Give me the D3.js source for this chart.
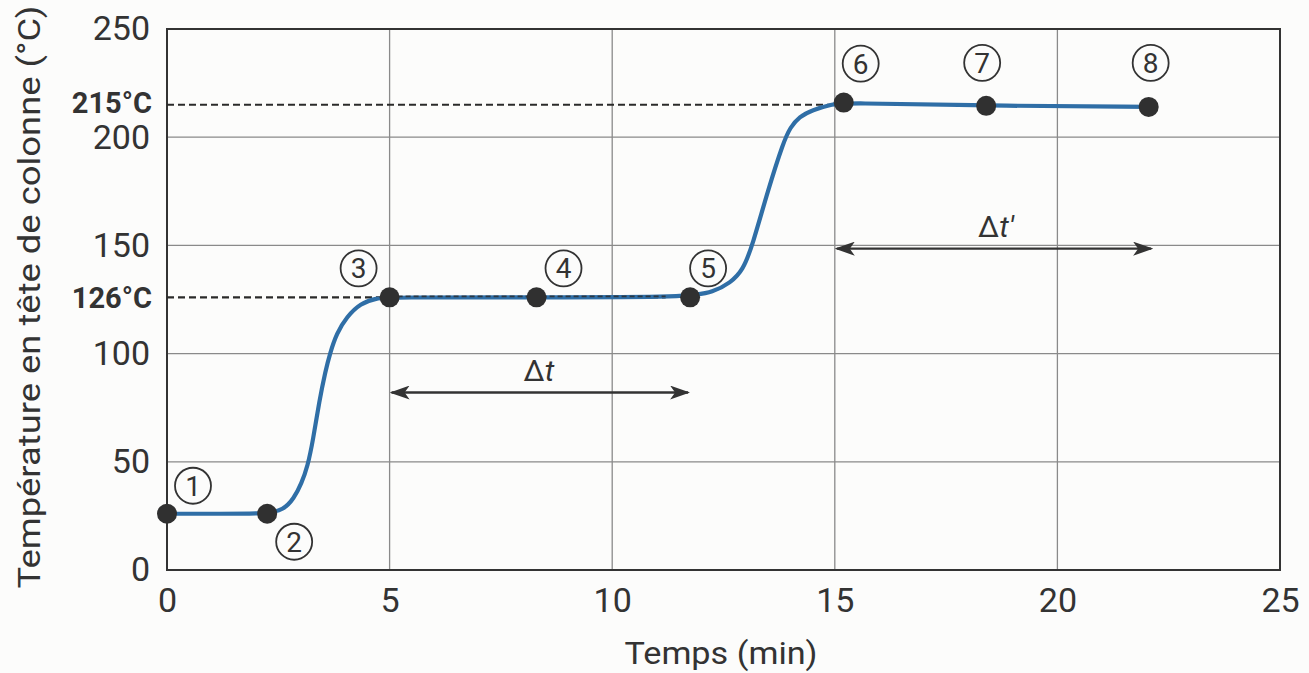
<!DOCTYPE html>
<html>
<head>
<meta charset="utf-8">
<script src="https://cdn.jsdelivr.net/npm/d3@7"></script>
<style>
  html, body { margin: 0; padding: 0; background: #fcfcfb; }
  svg { display: block; }
  .tick text { font-family: Roboto, sans-serif; fill: #333; }
</style>
</head>
<body>
<svg id="chart" width="1309" height="673"></svg>
<script>
// ---- data ----
const xTicks = [0, 5, 10, 15, 20, 25];
const yTicks = [0, 50, 100, 150, 200, 250];
const curveTime = [0, 1.2, 2.25, 2.61, 2.85, 3.02, 3.16, 3.28, 3.42, 3.56, 3.66, 3.81, 4.04, 4.34, 4.71, 5, 8.3, 11.75, 12.27, 12.65, 12.94, 13.15, 13.5, 13.85, 14.0, 14.2, 14.5, 14.9, 15.2, 18.4, 22.05];
const curveTemp = [26, 26, 26, 27.7, 33, 40, 48, 60, 78, 92, 100, 109.4, 117, 123.2, 125.6, 126, 126, 126, 128.5, 132.6, 138.6, 150, 175.6, 198, 204.5, 209.5, 212.6, 215, 216, 214.5, 214];
const pointTime = [0, 2.25, 5, 8.3, 11.75, 15.2, 18.4, 22.05];
const pointTemp = [26, 26, 126, 126, 126, 216, 214.5, 214];
const pointLabels = ["1", "2", "3", "4", "5", "6", "7", "8"];
const refTemps = [126, 215];
const refLabels = ["126°C", "215°C"];
const refEndTime = [11.2, 15.2];
const spanStart = [5, 15];
const spanEnd = [11.75, 22.15];
const spanTemp = [82, 148.5];
const spanLabels = ["Δt", "Δt′"];
const xTitle = "Temps (min)";
const yTitle = "Température en tête de colonne (°C)";

// ---- layout ----
const svg = d3.select("#chart");
const L = 167, R = 1280, T = 29, B = 570;
const x = d3.scaleLinear().domain([0, 25]).range([L, R]);
const y = d3.scaleLinear().domain([0, 250]).range([B, T]);
const ink = "#333";
const sans = "Roboto, 'Liberation Sans', sans-serif";

// grid
svg.append("g").selectAll("line").data(xTicks.slice(1, -1)).join("line")
  .attr("x1", d => x(d)).attr("x2", d => x(d)).attr("y1", T).attr("y2", B)
  .attr("stroke", "#8a8a8a").attr("stroke-width", 1.3);
svg.append("g").selectAll("line").data(yTicks.slice(1, -1)).join("line")
  .attr("y1", d => y(d)).attr("y2", d => y(d)).attr("x1", L).attr("x2", R)
  .attr("stroke", "#8a8a8a").attr("stroke-width", 1.3);

// frame
svg.append("rect").attr("x", L).attr("y", T).attr("width", R - L).attr("height", B - T)
  .attr("fill", "none").attr("stroke", ink).attr("stroke-width", 2);

// axes
const xAxis = svg.append("g").attr("transform", `translate(0,${B})`)
  .call(d3.axisBottom(x).tickValues(xTicks).tickSize(0).tickPadding(18).tickFormat(d3.format("d")));
xAxis.select(".domain").remove();
xAxis.selectAll("text").attr("font-size", 34).attr("dy", "0.71em");

const yAxis = svg.append("g").attr("transform", `translate(${L},0)`)
  .call(d3.axisLeft(y).tickValues(yTicks).tickSize(0).tickPadding(17).tickFormat(d3.format("d")));
yAxis.select(".domain").remove();
yAxis.selectAll("text").attr("font-size", 34);

// reference dashed lines
refTemps.forEach((t, i) => {
  svg.append("line")
    .attr("x1", x(0)).attr("x2", x(refEndTime[i]))
    .attr("y1", y(t)).attr("y2", y(t))
    .attr("stroke", "#2a2a2a").attr("stroke-width", 2.2)
    .attr("stroke-dasharray", "7,4");
});

// curve
const line = d3.line().x(d => x(d[0])).y(d => y(d[1])).curve(d3.curveBasis);
const curveData = curveTime.map((t, i) => [t, curveTemp[i]]);
svg.append("path").datum(curveData).attr("d", line)
  .attr("fill", "none").attr("stroke", "#2f6ea6").attr("stroke-width", 4.2)
  .attr("stroke-linejoin", "round").attr("stroke-linecap", "round");

// dashed overlay on plateau (drawn over the curve as in the reference)
svg.append("line")
  .attr("x1", x(spanStart[0])).attr("x2", x(refEndTime[0]))
  .attr("y1", y(refTemps[0]) - 1).attr("y2", y(refTemps[0]) - 1)
  .attr("stroke", "#2a2a2a").attr("stroke-width", 1.6)
  .attr("stroke-dasharray", "5,3").attr("opacity", 0.8);

// bold reference labels
refTemps.forEach((t, i) => {
  svg.append("text")
    .attr("x", 152).attr("y", y(t) - (i === 1 ? 2 : 0)).attr("dy", "0.36em")
    .attr("text-anchor", "end")
    .attr("font-family", sans)
    .attr("font-weight", "bold").attr("font-size", 29).attr("fill", ink)
    .text(refLabels[i]);
});

// points
svg.append("g").selectAll("circle").data(pointTime).join("circle")
  .attr("cx", (d) => x(d)).attr("cy", (d, i) => y(pointTemp[i])).attr("r", 10)
  .attr("fill", "#303030");

// point labels (circled numbers)
const labelOffsets = [[26, -28], [27, 28], [-31, -29], [27, -29], [18, -29], [17, -39], [-4, -43], [2, -44]];
const lg = svg.append("g").selectAll("g").data(pointLabels).join("g")
  .attr("transform", (d, i) => `translate(${x(pointTime[i]) + labelOffsets[i][0]},${y(pointTemp[i]) + labelOffsets[i][1]})`);
lg.append("circle").attr("r", 18).attr("fill", "#fcfcfb").attr("stroke", ink).attr("stroke-width", 1.8);
lg.append("text").attr("text-anchor", "middle").attr("dy", "0.36em")
  .attr("font-family", sans)
  .attr("font-size", 28).attr("fill", ink).text(d => d);

// double arrows
const defs = svg.append("defs");
defs.append("marker").attr("id", "ah").attr("viewBox", "0 0 20 14")
  .attr("refX", 18).attr("refY", 7).attr("markerWidth", 20).attr("markerHeight", 14)
  .attr("markerUnits", "userSpaceOnUse").attr("orient", "auto-start-reverse")
  .append("path").attr("d", "M0,0 L20,7 L0,14 L5,7 Z").attr("fill", ink);

spanStart.forEach((s, i) => {
  svg.append("line")
    .attr("x1", x(s) + 2).attr("x2", x(spanEnd[i]) - 2)
    .attr("y1", y(spanTemp[i])).attr("y2", y(spanTemp[i]))
    .attr("stroke", ink).attr("stroke-width", 2.4)
    .attr("marker-start", "url(#ah)").attr("marker-end", "url(#ah)");
  const tx = svg.append("text")
    .attr("x", (x(s) + x(spanEnd[i])) / 2 - (i === 0 ? 1 : -2))
    .attr("y", y(spanTemp[i]) - 12)
    .attr("text-anchor", "middle")
    .attr("font-family", sans)
    .attr("font-size", 30).attr("fill", ink);
  tx.append("tspan").text(spanLabels[i][0]);
  tx.append("tspan").attr("font-style", "italic").text(spanLabels[i].slice(1));
});

// axis titles
svg.append("text")
  .attr("x", 721).attr("y", 664).attr("text-anchor", "middle")
  .attr("font-family", sans)
  .attr("font-size", 31).attr("fill", ink)
  .attr("textLength", 193).attr("lengthAdjust", "spacingAndGlyphs")
  .text(xTitle);

svg.append("text")
  .attr("transform", "translate(40,297) rotate(-90)")
  .attr("text-anchor", "middle")
  .attr("font-family", sans)
  .attr("font-size", 32).attr("fill", ink)
  .attr("textLength", 583).attr("lengthAdjust", "spacingAndGlyphs")
  .text(yTitle);
</script>
</body>
</html>
